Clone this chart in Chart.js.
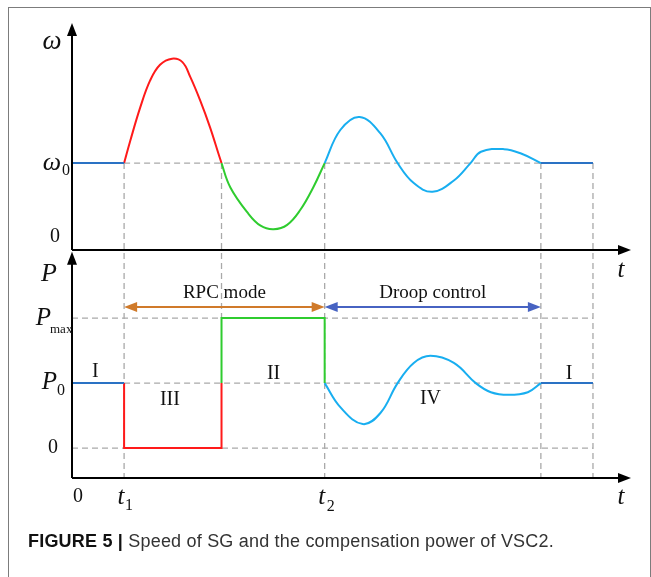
<!DOCTYPE html>
<html>
<head>
<meta charset="utf-8">
<script src="https://cdn.jsdelivr.net/npm/chart.js@4.4.1/dist/chart.umd.min.js"></script>
<style>
  html, body { margin: 0; padding: 0; background: #fff; }
  #wrap { position: relative; width: 651px; height: 577px; overflow: hidden; }
  #frame { position: absolute; left: 8px; top: 7px; width: 643px; height: 620px;
           border: 1px solid #7c7c7c; box-sizing: border-box; }
  canvas { position: absolute; left: 0; top: 0; }
  #caption { position: absolute; left: 28px; top: 531px; white-space: nowrap; letter-spacing: 0.2px;
             font-family: "Liberation Sans", Arial, sans-serif; font-size: 18px; color: #333; }
  #caption b { color: #111; }
</style>
</head>
<body>
<div id="wrap">
  <div id="frame"></div>
  <canvas id="myChart" width="651" height="577"></canvas>
  <div id="caption"><b>FIGURE 5 |</b> Speed of SG and the compensation power of VSC2.</div>
</div>
<script>
// key instants on the time axis
const t1 = 1.0, tSwitch = 2.87, t2 = 4.85, tSettle = 9.0, tEnd = 10.0;
const omega0 = 1, p0 = 1, pMax = 2;

// axis extents
const tAxisEnd = 10.73;
const wAxisTop = 2.61;
const pAxisTop = 3.02, pAxisBottom = -0.46;

// rotor speed from t1 to the end of droop control
const wT = [1.00, 1.12, 1.31, 1.50, 1.69, 1.92, 2.12, 2.27, 2.46, 2.65, 2.87,
            3.04, 3.37, 3.62, 3.87, 4.13, 4.38, 4.63, 4.85,
            5.15, 5.52, 5.92, 6.25, 6.56, 6.92, 7.33, 7.65, 7.85, 8.29, 8.62, 9.00];
const wV = [1.00, 1.26, 1.64, 1.95, 2.13, 2.20, 2.16, 1.99, 1.72, 1.41, 1.00,
            0.72, 0.43, 0.28, 0.24, 0.29, 0.46, 0.72, 1.00,
            1.38, 1.53, 1.34, 1.00, 0.77, 0.67, 0.80, 1.00, 1.13, 1.16, 1.11, 1.00];

// compensation power
const pRedT = [1.00, 1.00, 2.87, 2.87];
const pRedV = [1.00, 0.00, 0.00, 1.00];
const pGreenT = [2.87, 2.87, 4.85, 4.85];
const pGreenV = [1.00, 2.00, 2.00, 1.00];
const pBlueT = [4.85, 5.15, 5.58, 5.92, 6.25, 6.56, 6.88, 7.33, 7.75, 8.04, 8.38, 8.75, 9.00];
const pBlueV = [1.00, 0.63, 0.37, 0.54, 1.00, 1.31, 1.42, 1.31, 1.00, 0.86, 0.82, 0.86, 1.00];

// mode spans and region labels (t, P)
const modeSpans = [
  { label: "RPC mode", from: t1, to: t2, p: 2.17, color: "#d07a2a" },
  { label: "Droop control", from: t2, to: tSettle, p: 2.17, color: "#4763c2" },
];
const regionLabels = [
  { text: "I", t: 0.45, p: 1.17 },
  { text: "III", t: 1.88, p: 0.74 },
  { text: "II", t: 3.87, p: 1.15 },
  { text: "IV", t: 6.88, p: 0.76 },
  { text: "I", t: 9.54, p: 1.15 },
];

const pts = (ts, vs) => ts.map((t, i) => ({ x: t, y: vs[i] }));

const RED = "#ff1a1a", GREEN = "#2fcc2f", CYAN = "#18aef0", BLUE = "#2a72c4";
const SERIF = '"Liberation Serif", "Times New Roman", serif';

function line(ctx, x0, y0, x1, y1) {
  ctx.beginPath(); ctx.moveTo(x0, y0); ctx.lineTo(x1, y1); ctx.stroke();
}
function head(ctx, x, y, dx, dy, len, half) {
  ctx.beginPath();
  ctx.moveTo(x, y);
  ctx.lineTo(x - dx * len - dy * half, y - dy * len + dx * half);
  ctx.lineTo(x - dx * len + dy * half, y - dy * len - dx * half);
  ctx.closePath(); ctx.fill();
}
function text(ctx, s, x, y, font, align) {
  ctx.font = font; ctx.textAlign = align || "center"; ctx.textBaseline = "middle";
  ctx.fillText(s, x, y);
}

const sketch = {
  id: "sketch",
  beforeDatasetsDraw(chart) {
    const ctx = chart.ctx, s = chart.scales;
    const X = v => s.x.getPixelForValue(v), W = v => s.yW.getPixelForValue(v), P = v => s.yP.getPixelForValue(v);
    ctx.save();
    ctx.strokeStyle = "#a9a9a9"; ctx.lineWidth = 1.3; ctx.setLineDash([6, 4]);
    line(ctx, X(t1), W(omega0), X(tEnd), W(omega0));
    [t1, t2, tSettle, tEnd].forEach(t => line(ctx, X(t), W(omega0), X(t), P(pAxisBottom)));
    line(ctx, X(tSwitch), W(omega0), X(tSwitch), P(pMax));
    line(ctx, X(0), P(pMax), X(tEnd), P(pMax));
    line(ctx, X(t1), P(p0), X(tEnd), P(p0));
    line(ctx, X(0), P(0), X(tEnd), P(0));
    ctx.restore();
  },
  afterDatasetsDraw(chart) {
    const ctx = chart.ctx, s = chart.scales;
    const X = v => s.x.getPixelForValue(v), W = v => s.yW.getPixelForValue(v), P = v => s.yP.getPixelForValue(v);
    ctx.save();
    // axes
    ctx.strokeStyle = "#000"; ctx.fillStyle = "#000"; ctx.lineWidth = 2;
    line(ctx, X(0), W(0), X(0), W(wAxisTop) + 8);
    head(ctx, X(0), W(wAxisTop), 0, -1, 13, 5);
    line(ctx, X(0), W(0), X(tAxisEnd) - 8, W(0));
    head(ctx, X(tAxisEnd), W(0), 1, 0, 13, 5);
    line(ctx, X(0), P(pAxisBottom), X(0), P(pAxisTop) + 8);
    head(ctx, X(0), P(pAxisTop), 0, -1, 13, 5);
    line(ctx, X(0), P(pAxisBottom), X(tAxisEnd) - 8, P(pAxisBottom));
    head(ctx, X(tAxisEnd), P(pAxisBottom), 1, 0, 13, 5);

    // mode arrows
    modeSpans.forEach(m => {
      ctx.strokeStyle = m.color; ctx.fillStyle = m.color; ctx.lineWidth = 2;
      const y = P(m.p), a = X(m.from), b = X(m.to);
      line(ctx, a + 8, y, b - 8, y);
      head(ctx, a, y, -1, 0, 13, 5);
      head(ctx, b, y, 1, 0, 13, 5);
      ctx.fillStyle = "#111";
      text(ctx, m.label, (a + b) / 2, y - 14, "19px " + SERIF);
    });

    ctx.fillStyle = "#111";
    regionLabels.forEach(r => text(ctx, r.text, X(r.t), P(r.p), "20px " + SERIF));

    // axis labels
    const xl = X(0);
    text(ctx, "ω", xl - 20, W(wAxisTop) + 19, "italic 27px " + SERIF);
    text(ctx, "ω", xl - 11, W(omega0), "italic 26px " + SERIF, "right");
    text(ctx, "0", xl - 10, W(omega0) + 8, "16px " + SERIF, "left");
    text(ctx, "0", xl - 17, W(0) - 13, "20px " + SERIF);
    text(ctx, "P", xl - 23, P(pAxisTop) + 22, "italic 26px " + SERIF);
    text(ctx, "P", xl - 21, P(pMax), "italic 25px " + SERIF, "right");
    text(ctx, "max", xl - 22, P(pMax) + 11, "13px " + SERIF, "left");
    text(ctx, "P", xl - 15, P(p0) - 1, "italic 25px " + SERIF, "right");
    text(ctx, "0", xl - 15, P(p0) + 8, "16px " + SERIF, "left");
    text(ctx, "0", xl - 19, P(0), "20px " + SERIF);
    const yb = P(pAxisBottom);
    text(ctx, "0", X(0) + 6, yb + 19, "20px " + SERIF);
    text(ctx, "t", X(t1) - 3, yb + 19, "italic 25px " + SERIF);
    text(ctx, "1", X(t1) + 5, yb + 28, "16px " + SERIF);
    text(ctx, "t", X(t2) - 3, yb + 19, "italic 25px " + SERIF);
    text(ctx, "2", X(t2) + 6, yb + 29, "16px " + SERIF);
    text(ctx, "t", X(tAxisEnd) - 10, yb + 19, "italic 25px " + SERIF);
    text(ctx, "t", X(tAxisEnd) - 10, W(0) + 20, "italic 25px " + SERIF);
    ctx.restore();
  }
};

// colour of the speed curve by control stage
const stageColor = c => {
  const x = c.p0.parsed.x;
  return x < tSwitch - 1e-6 ? RED : x < t2 - 1e-6 ? GREEN : CYAN;
};

const curve = (label, data, color, axis) => ({
  label, data, yAxisID: axis, borderColor: color, borderWidth: 2,
  pointRadius: 0, fill: false, tension: 0.4,
});
const step = (label, data, color, axis) => ({
  label, data, yAxisID: axis, borderColor: color, borderWidth: 2,
  pointRadius: 0, fill: false, tension: 0,
});

const omegaCurve = curve("ω", pts(wT, wV), RED, "yW");
omegaCurve.segment = { borderColor: stageColor };

const ctx = document.getElementById("myChart");
const chart = new Chart(ctx, {
  type: "line",
  data: {
    datasets: [
      step("ω start", pts([0, t1], [omega0, omega0]), BLUE, "yW"),
      omegaCurve,
      step("ω end", pts([tSettle, tEnd], [omega0, omega0]), BLUE, "yW"),
      step("P start", pts([0, t1], [p0, p0]), BLUE, "yP"),
      step("P zero", pts(pRedT, pRedV), RED, "yP"),
      step("P max", pts(pGreenT, pGreenV), GREEN, "yP"),
      curve("P droop", pts(pBlueT, pBlueV), CYAN, "yP"),
      step("P end", pts([tSettle, tEnd], [p0, p0]), BLUE, "yP"),
    ],
  },
  options: {
    responsive: false,
    animation: false,
    layout: { padding: { left: 72, right: 20, top: 23, bottom: 99 } },
    plugins: { legend: { display: false }, tooltip: { enabled: false } },
    scales: {
      x: { type: "linear", min: 0, max: tAxisEnd, display: false },
      yW: { type: "linear", min: -2.62, max: wAxisTop, display: false },
      yP: { type: "linear", min: pAxisBottom, max: 6.54, display: false },
    },
  },
  plugins: [sketch],
});
</script>
</body>
</html>
